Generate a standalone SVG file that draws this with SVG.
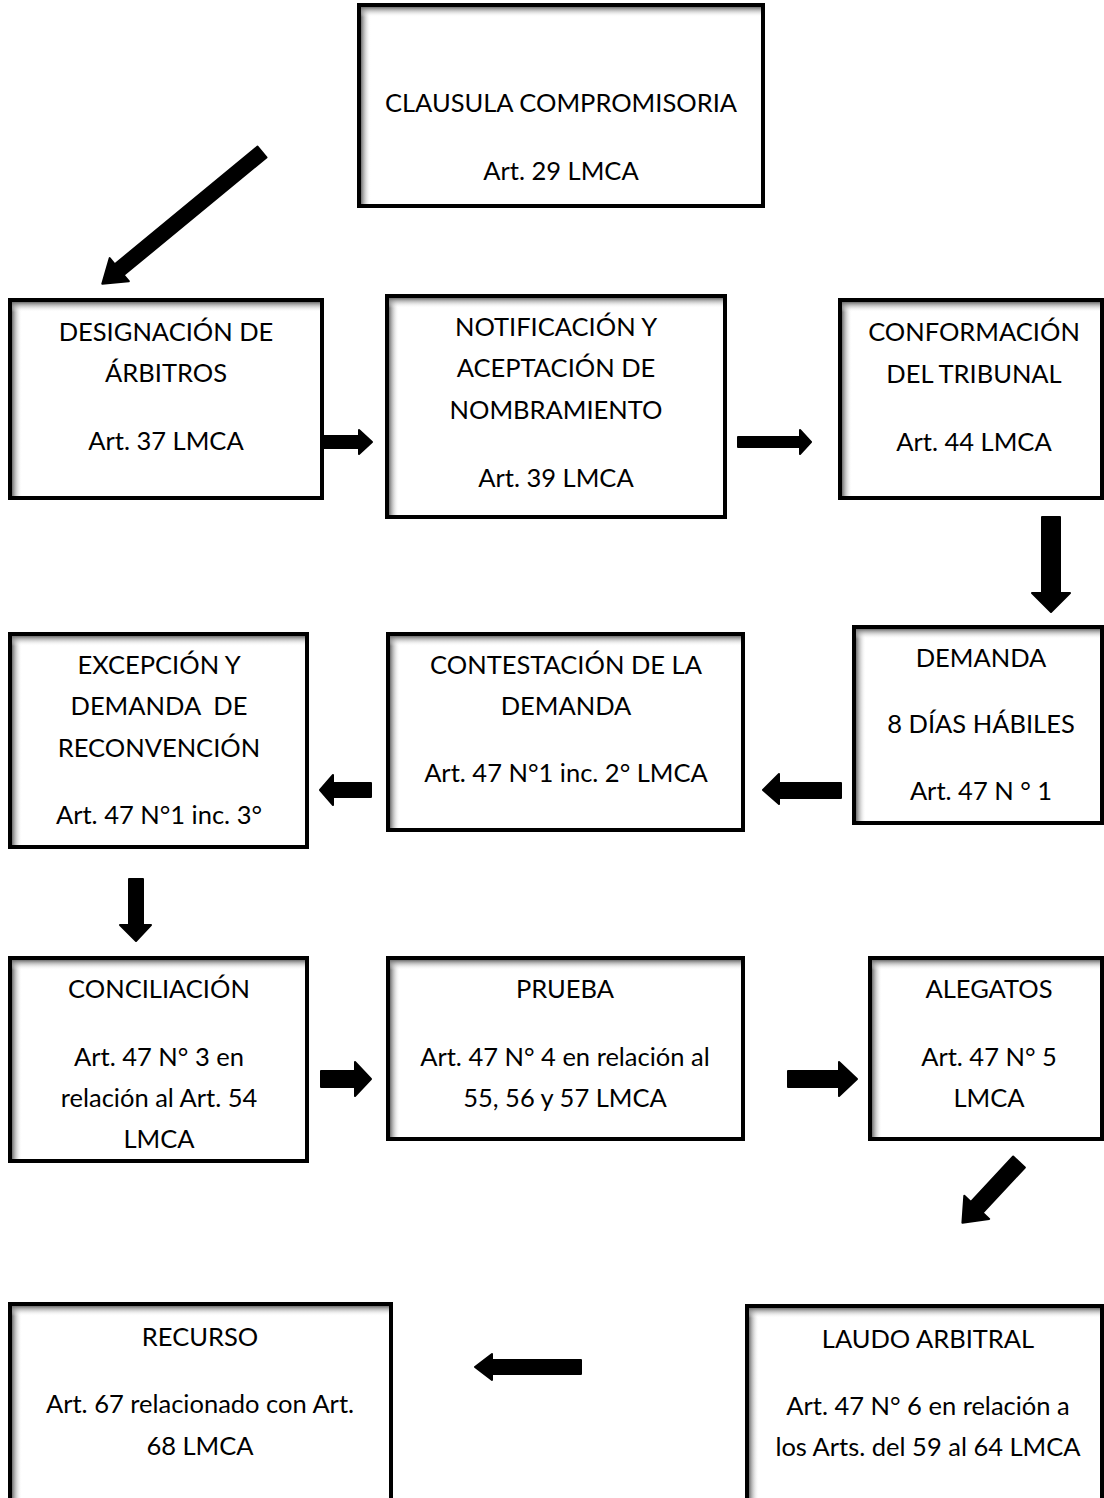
<svg xmlns="http://www.w3.org/2000/svg" width="1104" height="1498" viewBox="0 0 1104 1498">
<style>
.box{fill:#fff;stroke:#000;stroke-width:4}
.t{font-family:Lato,"Liberation Sans",sans-serif;font-size:25.5px;fill:#000;text-anchor:middle}
.arr{fill:#000;stroke:#000;stroke-width:2;stroke-linejoin:round}
</style>
<defs>
<linearGradient id="gl" x1="0" y1="0" x2="1" y2="0"><stop offset="0" stop-color="#6e6e6e"/><stop offset="1" stop-color="#fff" stop-opacity="0"/></linearGradient>
<linearGradient id="gt" x1="0" y1="0" x2="0" y2="1"><stop offset="0" stop-color="#6e6e6e"/><stop offset="1" stop-color="#fff" stop-opacity="0"/></linearGradient>
</defs>
<rect width="1104" height="1498" fill="#fff"/>

<g id="n1">
<rect class="box" x="359" y="5" width="404" height="201"/>
<rect x="361" y="7" width="10" height="197" fill="url(#gl)"/><rect x="361" y="7" width="400" height="10" fill="url(#gt)"/>
<text class="t" x="561" y="112">CLAUSULA COMPROMISORIA</text>
<text class="t" x="561" y="180">Art. 29 LMCA</text>
</g>

<g id="n2">
<rect class="box" x="10" y="300" width="312" height="198"/>
<rect x="12" y="302" width="10" height="194" fill="url(#gl)"/><rect x="12" y="302" width="308" height="10" fill="url(#gt)"/>
<text class="t" x="166" y="341">DESIGNACIÓN DE</text>
<text class="t" x="166" y="382">ÁRBITROS</text>
<text class="t" x="166" y="450">Art. 37 LMCA</text>
</g>

<g id="n3">
<rect class="box" x="387" y="296" width="338" height="221"/>
<rect x="389" y="298" width="10" height="217" fill="url(#gl)"/><rect x="389" y="298" width="334" height="10" fill="url(#gt)"/>
<text class="t" x="556" y="336">NOTIFICACIÓN Y</text>
<text class="t" x="556" y="377">ACEPTACIÓN DE</text>
<text class="t" x="556" y="419">NOMBRAMIENTO</text>
<text class="t" x="556" y="487">Art. 39 LMCA</text>
</g>

<g id="n4">
<rect class="box" x="840" y="300" width="262" height="198"/>
<rect x="842" y="302" width="10" height="194" fill="url(#gl)"/><rect x="842" y="302" width="258" height="10" fill="url(#gt)"/>
<text class="t" x="974" y="341">CONFORMACIÓN</text>
<text class="t" x="974" y="383">DEL TRIBUNAL</text>
<text class="t" x="974" y="451">Art. 44 LMCA</text>
</g>

<g id="n5">
<rect class="box" x="854" y="627" width="248" height="196"/>
<rect x="856" y="629" width="10" height="192" fill="url(#gl)"/><rect x="856" y="629" width="244" height="10" fill="url(#gt)"/>
<text class="t" x="981" y="667">DEMANDA</text>
<text class="t" x="981" y="733">8 DÍAS HÁBILES</text>
<text class="t" x="981" y="800">Art. 47 N ° 1</text>
</g>

<g id="n6">
<rect class="box" x="388" y="634" width="355" height="196"/>
<rect x="390" y="636" width="10" height="192" fill="url(#gl)"/><rect x="390" y="636" width="351" height="10" fill="url(#gt)"/>
<text class="t" x="566" y="674">CONTESTACIÓN DE LA</text>
<text class="t" x="566" y="715">DEMANDA</text>
<text class="t" x="566" y="782">Art. 47 N°1 inc. 2° LMCA</text>
</g>

<g id="n7">
<rect class="box" x="10" y="634" width="297" height="213"/>
<rect x="12" y="636" width="10" height="209" fill="url(#gl)"/><rect x="12" y="636" width="293" height="10" fill="url(#gt)"/>
<text class="t" x="159" y="674">EXCEPCIÓN Y</text>
<text class="t" x="159" y="715" xml:space="preserve">DEMANDA  DE</text>
<text class="t" x="159" y="757">RECONVENCIÓN</text>
<text class="t" x="159" y="824">Art. 47 N°1 inc. 3°</text>
</g>

<g id="n8">
<rect class="box" x="10" y="958" width="297" height="203"/>
<rect x="12" y="960" width="10" height="199" fill="url(#gl)"/><rect x="12" y="960" width="293" height="10" fill="url(#gt)"/>
<text class="t" x="159" y="998">CONCILIACIÓN</text>
<text class="t" x="159" y="1066">Art. 47 N° 3 en</text>
<text class="t" x="159" y="1107">relación al Art. 54</text>
<text class="t" x="159" y="1148">LMCA</text>
</g>

<g id="n9">
<rect class="box" x="388" y="958" width="355" height="181"/>
<rect x="390" y="960" width="10" height="177" fill="url(#gl)"/><rect x="390" y="960" width="351" height="10" fill="url(#gt)"/>
<text class="t" x="565" y="998">PRUEBA</text>
<text class="t" x="565" y="1066">Art. 47 N° 4 en relación al</text>
<text class="t" x="565" y="1107">55, 56 y 57 LMCA</text>
</g>

<g id="n10">
<rect class="box" x="870" y="958" width="232" height="181"/>
<rect x="872" y="960" width="10" height="177" fill="url(#gl)"/><rect x="872" y="960" width="228" height="10" fill="url(#gt)"/>
<text class="t" x="989" y="998">ALEGATOS</text>
<text class="t" x="989" y="1066">Art. 47 N° 5</text>
<text class="t" x="989" y="1107">LMCA</text>
</g>

<g id="n11">
<rect class="box" x="10" y="1304" width="381" height="210"/>
<rect x="12" y="1306" width="10" height="206" fill="url(#gl)"/><rect x="12" y="1306" width="377" height="10" fill="url(#gt)"/>
<text class="t" x="200" y="1346">RECURSO</text>
<text class="t" x="200" y="1413">Art. 67 relacionado con Art.</text>
<text class="t" x="200" y="1455">68 LMCA</text>
</g>

<g id="n12">
<rect class="box" x="747" y="1306" width="355" height="210"/>
<rect x="749" y="1308" width="10" height="206" fill="url(#gl)"/><rect x="749" y="1308" width="351" height="10" fill="url(#gt)"/>
<text class="t" x="928" y="1348">LAUDO ARBITRAL</text>
<text class="t" x="928" y="1415">Art. 47 N° 6 en relación a</text>
<text class="t" x="928" y="1456">los Arts. del 59 al 64 LMCA</text>
</g>

<g id="connectors">
<polygon class="arr" transform="translate(262,152) rotate(140.5)" points="0,-7 185,-7 185,-15 207,0 185,15 185,7 0,7"/>
<polygon class="arr" points="324,436 359,436 359,430 372,442 359,454 359,448 324,448"/>
<polygon class="arr" points="738,437 800,437 800,430 811,442 800,454 800,447 738,447"/>
<polygon class="arr" points="1042,517 1060,517 1060,593 1070,593 1051,612 1032,593 1042,593"/>
<polygon class="arr" points="841,783 779,783 779,774 763,790 779,804 779,798 841,798"/>
<polygon class="arr" points="371,783 333,783 333,775 320,790 333,805 333,797 371,797"/>
<polygon class="arr" points="129,879 143,879 143,925 151,925 136,941 120,925 129,925"/>
<polygon class="arr" points="321,1071 355,1071 355,1062 371,1079 355,1096 355,1087 321,1087"/>
<polygon class="arr" points="788,1071 839,1071 839,1062 857,1079 839,1096 839,1087 788,1087"/>
<polygon class="arr" transform="translate(1019,1162) rotate(133)" points="0,-8 62,-8 62,-17 83,0 62,17 62,8 0,8"/>
<polygon class="arr" points="581,1360 492,1360 492,1354 475,1367 492,1380 492,1374 581,1374"/>
</g>
</svg>
